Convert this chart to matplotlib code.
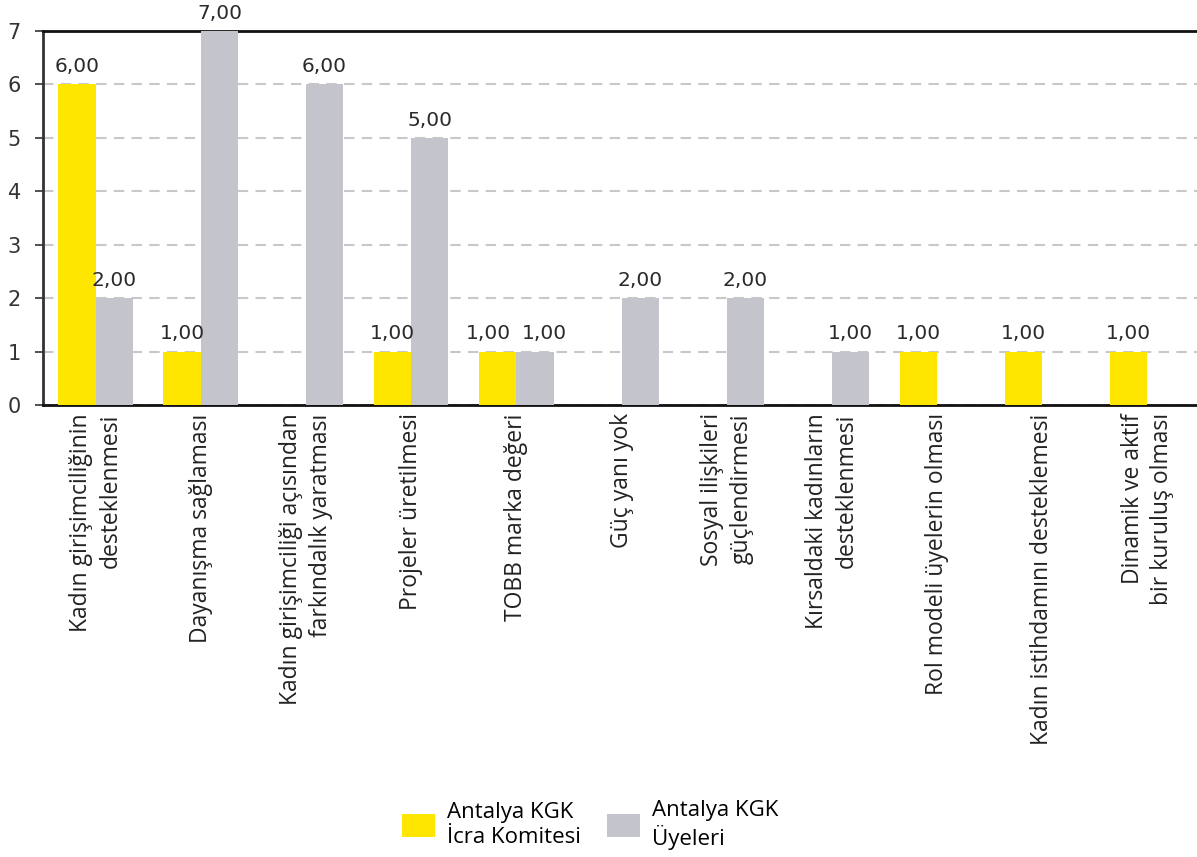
import matplotlib
matplotlib.use("Agg")
import matplotlib.pyplot as plt
import numpy as np
from matplotlib.patches import Patch

categories = [
    "Kadın girişimciliğinin\ndesteklenmesi",
    "Dayanışma sağlaması",
    "Kadın girişimciliği açısından\nfarkındalık yaratması",
    "Projeler üretilmesi",
    "TOBB marka değeri",
    "Güç yanı yok",
    "Sosyal ilişkileri\ngüçlendirmesi",
    "Kırsaldaki kadınların\ndesteklenmesi",
    "Rol modeli üyelerin olması",
    "Kadın istihdamını desteklemesi",
    "Dinamik ve aktif\nbir kuruluş olması",
]
icra = [6, 1, 0, 1, 1, 0, 0, 0, 1, 1, 1]
uyeler = [2, 7, 6, 5, 1, 2, 2, 1, 0, 0, 0]
series_names = ["Antalya KGK\nİcra Komitesi", "Antalya KGK\nÜyeleri"]
colors = ["#FFE600", "#C4C4CD"]
yticks = [0, 1, 2, 3, 4, 5, 6, 7]

fig = plt.figure(figsize=(11.97, 8.57), dpi=100)
ax = fig.add_axes([43/1197, 1-405/857, (1200-43)/1197, (405-31)/857])

x = np.arange(len(categories))
w = 0.355
b1 = ax.bar(x - w/2, icra, w, color=colors[0], zorder=3)
b2 = ax.bar(x + w/2, uyeler, w, color=colors[1], zorder=3)

for k, (bars, vals, other, sign) in enumerate(((b1, icra, uyeler, -1), (b2, uyeler, icra, 1))):
    for r, v, o in zip(bars, vals, other):
        if v > 0:
            # push apart labels that would collide when both bars have equal height
            dx = sign * 7 if abs(v - o) < 0.5 else 0
            ax.annotate(f"{v:.2f}".replace(".", ","),
                        xy=(r.get_x() + r.get_width()/2, v), xytext=(dx, 6),
                        textcoords="offset points", ha="center", va="bottom",
                        fontsize=14.5, color="#2a2a2a", family="DejaVu Sans")

ax.set_xlim(-0.5, len(categories) - 0.5)
ax.set_ylim(0, 7)
ax.set_yticks(yticks)
ax.set_yticklabels([str(t) for t in yticks], fontsize=15, color="#333333", family="DejaVu Sans")
ax.yaxis.grid(True, linestyle=(0, (5, 3.5)), color="#C8C8C8", linewidth=1.5, zorder=0)
ax.set_axisbelow(True)

ax.set_xticks(x)
ax.set_xticklabels(categories, rotation=90, fontsize=16.5, color="#222222",
                   family="Open Sans", ha="center", va="top", multialignment="right",
                   linespacing=1.3)
ax.tick_params(axis="x", length=0, pad=6)
ax.tick_params(axis="y", length=6, width=1.2, color="#333333", pad=10)

ax.spines["right"].set_visible(False)
ax.spines["top"].set_color("#111111")
ax.spines["top"].set_linewidth(2)
ax.spines["bottom"].set_color("#111111")
ax.spines["bottom"].set_linewidth(2)
ax.spines["left"].set_color("#333333")
ax.spines["left"].set_linewidth(2)

handles = [Patch(facecolor=c, edgecolor="none") for c in colors]
fig.legend(handles, series_names, loc="center", bbox_to_anchor=(590/1197, 1-825/857),
           ncol=2, frameon=False, handlelength=1.5, handleheight=1.2,
           columnspacing=1.2, handletextpad=0.5, prop={"family": "Open Sans", "size": 16})

fig.savefig("out.png", dpi=100)
